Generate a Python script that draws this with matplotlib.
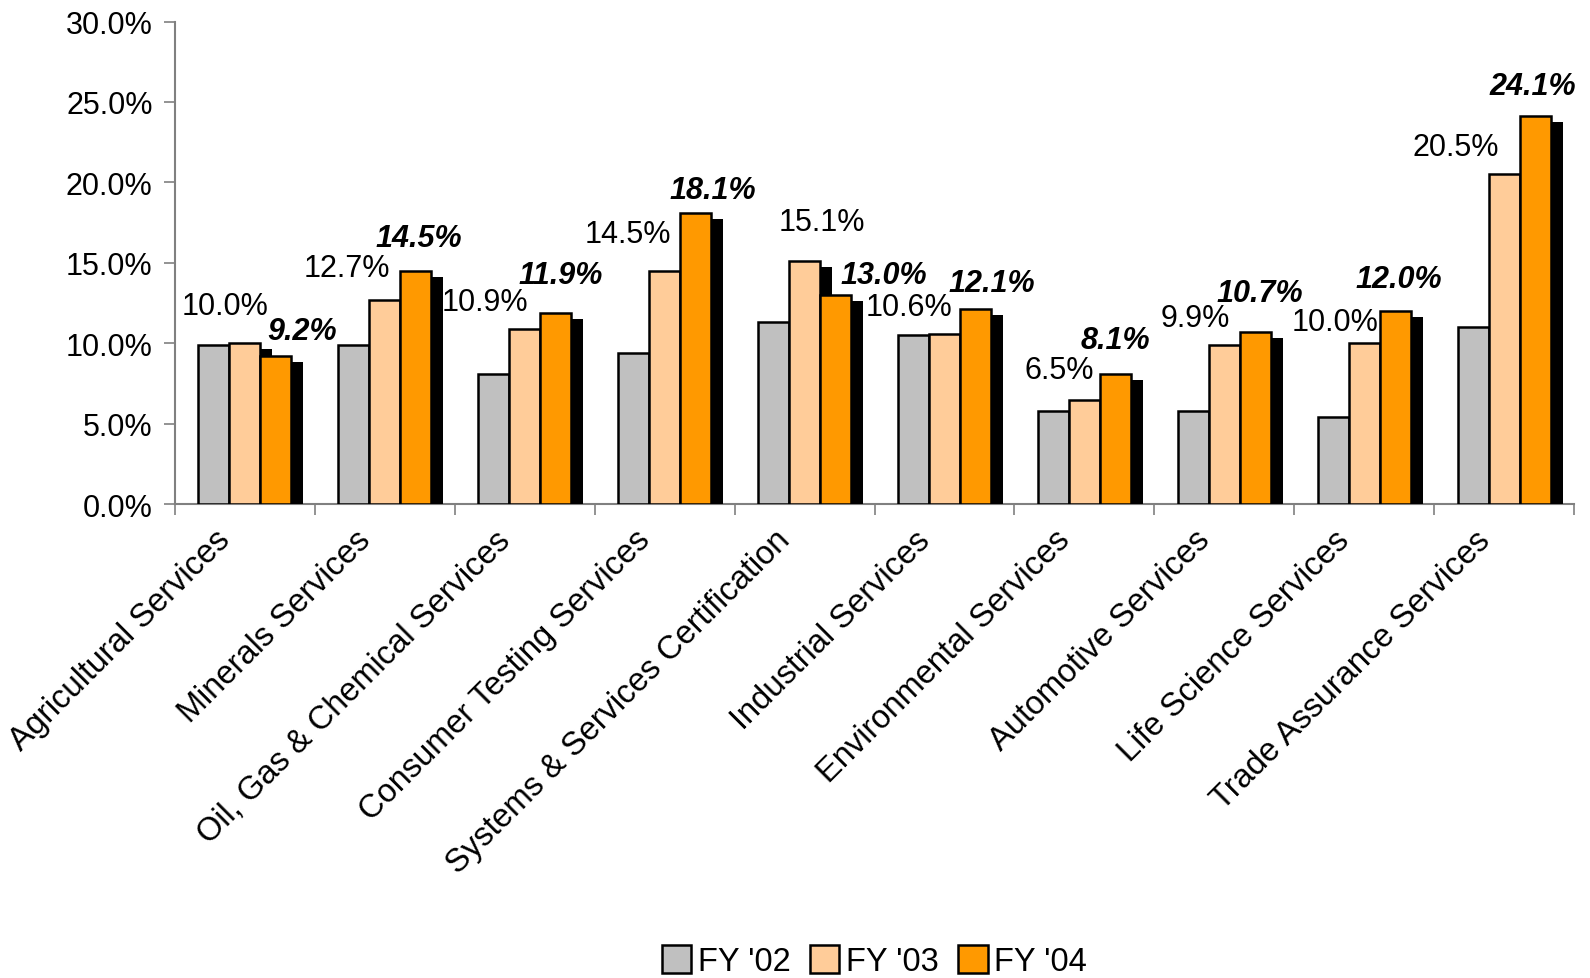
import matplotlib
matplotlib.use("Agg")
import matplotlib.pyplot as plt
import numpy as np
from matplotlib.ticker import FuncFormatter, FixedLocator

categories = ["Agricultural Services", "Minerals Services", "Oil, Gas & Chemical Services",
              "Consumer Testing Services", "Systems & Services Certification", "Industrial Services",
              "Environmental Services", "Automotive Services", "Life Science Services",
              "Trade Assurance Services"]
series_names = ["FY '02", "FY '03", "FY '04"]
fy02 = [9.9, 9.9, 8.1, 9.4, 11.3, 10.5, 5.8, 5.8, 5.4, 11.0]
fy03 = [10.0, 12.7, 10.9, 14.5, 15.1, 10.6, 6.5, 9.9, 10.0, 20.5]
fy04 = [9.2, 14.5, 11.9, 18.1, 13.0, 12.1, 8.1, 10.7, 12.0, 24.1]

# label placement offsets (pixels) relative to bar top-centre
off03 = [(-20, 37), (-37, 31), (-39, 26), (-36, 36), (17, 39), (-35, 26), (-25, 29), (-29, 27), (-29, 21), (-48, 27)]
off04 = [(26, 25), (3, 32), (5, 37), (17, 23), (48, 20), (16, 26), (0, 33), (4, 38), (3, 32), (-2, 30)]

colors = ["#C0C0C0", "#FFCC99", "#FF9900"]
plt.rcParams['font.family'] = ['Liberation Sans', 'DejaVu Sans']

fig = plt.figure(figsize=(15.9, 9.79), dpi=100)
ax = fig.add_axes([0.110, 0.484, 0.880, 0.493])

n = len(categories)
x = np.arange(n)
w = 0.222
data = [fy02, fy03, fy04]
sdx = 0.086
sdy = 0.37
for k, (vals, c) in enumerate(zip(data, colors)):
    pos = x + (k - 1) * w
    ax.bar(pos + sdx, np.array(vals) - sdy, width=w, color="black", edgecolor="none", zorder=2 + k * 2)
    ax.bar(pos, vals, width=w, color=c, edgecolor="black", linewidth=1.8, zorder=3 + k * 2, label=series_names[k])

for i in range(n):
    ax.annotate(f"{fy03[i]:.1f}%", (x[i], fy03[i]), xytext=(off03[i][0] * 1.014, off03[i][1] * 1.014),
                textcoords="offset pixels", ha="center", va="center", fontsize=22, zorder=10)
    ax.annotate(f"{fy04[i]:.1f}%", (x[i] + w, fy04[i]), xytext=(off04[i][0] * 1.014, off04[i][1] * 1.014),
                textcoords="offset pixels", ha="center", va="center", fontsize=22,
                fontweight="bold", fontstyle="italic", zorder=10)
    ax.annotate(categories[i], (x[i], 0), xytext=(-30, -20), textcoords="offset pixels",
                rotation=45, ha="right", va="top", rotation_mode="anchor", fontsize=23.5,
                annotation_clip=False)

ax.set_xlim(-0.5, n - 0.5)
ax.set_ylim(0, 30)
ax.yaxis.set_major_locator(FixedLocator([0, 5, 10, 15, 20, 25, 30]))
ax.yaxis.set_major_formatter(FuncFormatter(lambda v, p: f"{v:.1f}%"))
ax.set_xticks(x)
ax.set_xticklabels([])
ax.set_xticks(np.arange(n + 1) - 0.5, minor=True)
ax.tick_params(axis="x", which="major", length=0)
ax.tick_params(axis="x", which="minor", length=8, width=1.2, color="#808080", direction="out")
ax.tick_params(axis="y", length=8, width=1.2, color="#808080", labelsize=22, pad=8)
for s in ["top", "right"]:
    ax.spines[s].set_visible(False)
for s in ["left", "bottom"]:
    ax.spines[s].set_color("#808080")
    ax.spines[s].set_linewidth(1.5)

fig.legend(loc="center", bbox_to_anchor=(0.55, 0.017), ncol=3, frameon=False, fontsize=23.5,
           handlelength=0.9, handleheight=0.9, handletextpad=0.2, columnspacing=0.6, borderpad=0)

fig.savefig("out.png", dpi=100)
